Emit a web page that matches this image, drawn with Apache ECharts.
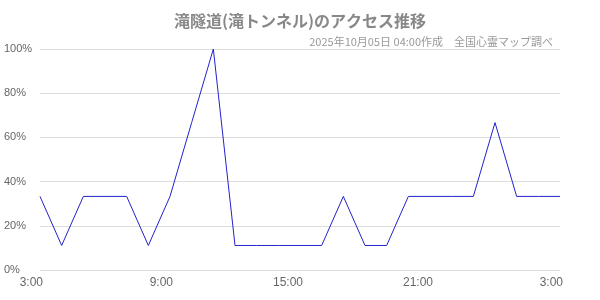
<!DOCTYPE html>
<html><head><meta charset="utf-8">
<script src="https://cdn.jsdelivr.net/npm/echarts@6/dist/echarts.min.js"></script>
<style>html,body{margin:0;padding:0;background:#fff}#c{width:600px;height:300px}</style>
</head><body><div id="c"></div>
<script>
const titleText = '滝隧道(滝トンネル)のアクセス推移';
const subText = '2025年10月05日 04:00作成　全国心霊マップ調べ';
const hours = ['3:00','4:00','5:00','6:00','7:00','8:00','9:00','10:00','11:00','12:00','13:00','14:00','15:00','16:00','17:00','18:00','19:00','20:00','21:00','22:00','23:00','0:00','1:00','2:00','3:00'];
const access = [33.3,11.1,33.3,33.3,33.3,11.1,33.3,66.7,100,11.1,11.1,11.1,11.1,11.1,33.3,11.1,11.1,33.3,33.3,33.3,33.3,66.7,33.3,33.3,33.3];
const yTicks = [0,20,40,60,80,100];

const chart = echarts.init(document.getElementById('c'), null, {renderer:'canvas'});
chart.setOption({
  animation:false,
  backgroundColor:'#fff',
  title:[
    {text:titleText,left:'center',top:8,textStyle:{fontFamily:'Noto Sans CJK JP',fontSize:16,fontWeight:'bold',color:'#888'}},
    {text:subText,right:42,top:31,textStyle:{fontFamily:'Noto Sans CJK JP',fontSize:11,fontWeight:'normal',color:'#999'}}
  ],
  grid:{left:40,right:40,top:49,bottom:30},
  xAxis:{type:'category',data:hours,boundaryGap:false,
    axisLine:{show:false},axisTick:{show:false},
    axisLabel:{interval:5,align:'right',padding:[0,-3,0,0],color:'#666',fontFamily:'Liberation Sans',fontSize:12,margin:7},
    splitLine:{show:false}},
  yAxis:{type:'value',min:0,max:100,interval:20,
    axisLine:{show:false},axisTick:{show:false},
    axisLabel:{formatter:v=>v+'%',align:'left',margin:36,color:'#666',fontFamily:'Liberation Sans',fontSize:11},
    splitLine:{lineStyle:{color:'#ddd',width:1}}},
  series:[{type:'line',data:access,showSymbol:false,symbol:'none',
    lineStyle:{color:'#2222cc',width:1},itemStyle:{color:'#2222cc'}}]
});
</script></body></html>
